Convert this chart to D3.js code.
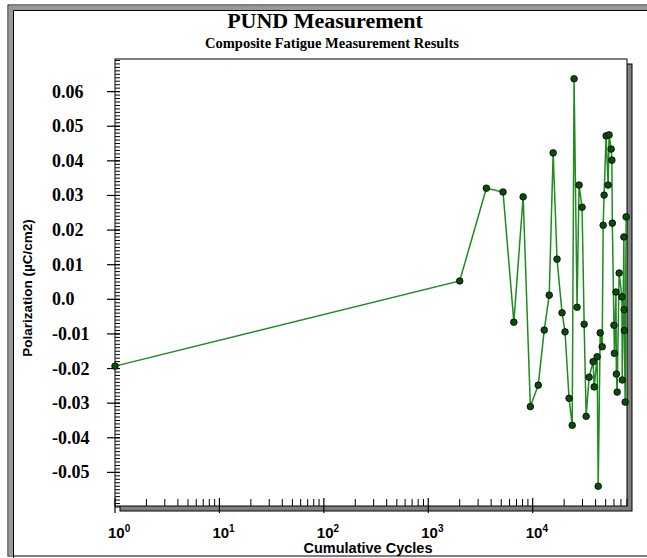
<!DOCTYPE html>
<html>
<head>
<meta charset="utf-8">
<script src="https://cdn.jsdelivr.net/npm/d3@7"></script>
<style>
  body { margin: 0; background: #fff; }
  svg { display: block; }
</style>
</head>
<body>
<div id="chart"></div>
<script>
// cumulative cycles and polarization
const cycles = [1, 2000, 3600, 5200, 6600, 8100, 9500, 11300, 12900, 14400, 15700, 17100,
  19100, 20400, 22300, 23900, 24900, 26600, 27800, 29700, 31100, 32500, 34700, 37900,
  38800, 41400, 42400, 44300, 46300, 47300, 48300, 50500, 52800, 53900, 56400, 57300,
  57900, 60000, 60600, 62700, 63300, 64400, 67300, 71500, 72100, 74700, 75100, 75500,
  76800, 78500];
const polarization = [-0.0193, 0.0053, 0.0321, 0.0310, -0.0066, 0.0296, -0.0310, -0.0248,
  -0.0089, 0.0012, 0.0423, 0.0116, -0.0039, -0.0094, -0.0286, -0.0364, 0.0637, -0.0023,
  0.0330, 0.0266, -0.0072, -0.0338, -0.0225, -0.0180, -0.0253, -0.0166, -0.0540, -0.0097,
  -0.0137, 0.0214, 0.0301, 0.0472, 0.0330, 0.0475, 0.0434, 0.0402, 0.0220, -0.0075,
  -0.0156, 0.0021, -0.0216, -0.0268, 0.0076, 0.0007, -0.0233, 0.0180, -0.0030, -0.0090,
  -0.0297, 0.0238];
const yTicks = [-0.05, -0.04, -0.03, -0.02, -0.01, 0, 0.01, 0.02, 0.03, 0.04, 0.05, 0.06];
const xTicks = [1, 10, 100, 1000, 10000];

const W = 647, H = 558;
const plotL = 115, plotR = 627, plotT = 59, plotB = 506;

const svg = d3.select('#chart').append('svg')
  .attr('width', W)
  .attr('height', H);

// outer window frame (double line left and top)
svg.append('rect').attr('x', 8).attr('y', 5).attr('width', W).attr('height', 551)
  .attr('fill', 'none').attr('stroke', '#000').attr('stroke-width', 1);
svg.append('rect').attr('x', 9).attr('y', 6).attr('width', W).attr('height', 4)
  .attr('fill', '#999');
svg.append('rect').attr('x', 9).attr('y', 6).attr('width', 4).attr('height', 550)
  .attr('fill', '#999');
svg.append('path').attr('d', `M13.5,${H} V10.5 H${W}`)
  .attr('fill', 'none').attr('stroke', '#000');

// titles
svg.append('text').attr('x', 325).attr('y', 28)
  .attr('text-anchor', 'middle')
  .style('font-family', '"Liberation Serif", serif')
  .style('font-weight', 'bold').style('font-size', '22px')
  .text('PUND Measurement');
svg.append('text').attr('x', 332).attr('y', 48)
  .attr('text-anchor', 'middle')
  .style('font-family', '"Liberation Serif", serif')
  .style('font-weight', 'bold').style('font-size', '14.5px')
  .text('Composite Fatigue Measurement Results');

const x = d3.scaleLog().domain([1, 80000]).range([plotL, plotR]);
const y = d3.scaleLinear().domain([-0.06, 0.07]).range([507, 57]);

// plot box with grey drop shadow
svg.append('rect').attr('x', plotL + 5).attr('y', plotT + 5)
  .attr('width', plotR - plotL).attr('height', plotB - plotT)
  .attr('fill', '#808080').attr('stroke', '#000');
svg.append('rect').attr('x', plotL).attr('y', plotT)
  .attr('width', plotR - plotL).attr('height', plotB - plotT)
  .attr('fill', '#fff').attr('stroke', '#000');

// y minor ticks every 0.001
const yMinor = d3.range(-60, 70).map(d => d / 1000);
svg.append('g').selectAll('line').data(yMinor).join('line')
  .attr('x1', plotL).attr('x2', plotL + 5)
  .attr('y1', d => y(d)).attr('y2', d => y(d))
  .attr('stroke', '#000');

svg.append('g').selectAll('line').data(yTicks).join('line')
  .attr('x1', plotL - 8).attr('x2', plotL + 5)
  .attr('y1', d => y(d)).attr('y2', d => y(d))
  .attr('stroke', '#000').attr('stroke-width', 1.2);

svg.append('g').selectAll('text').data(yTicks).join('text')
  .attr('x', 52).attr('y', d => y(d) + 6)
  .style('font-family', '"Liberation Serif", serif')
  .style('font-weight', 'bold').style('font-size', '18px')
  .text(d => d === 0 ? '0.0' : d3.format('.2f')(d).replace('−', '-'));

// x minor ticks
const xMinor = [];
for (let p = 0; p <= 4; p++) {
  for (let k = 2; k <= 9; k++) {
    const v = k * Math.pow(10, p);
    if (v <= 80000) xMinor.push(v);
  }
}
svg.append('g').selectAll('line').data(xMinor).join('line')
  .attr('x1', d => x(d)).attr('x2', d => x(d))
  .attr('y1', plotB - 7).attr('y2', plotB)
  .attr('stroke', '#000');

svg.append('g').selectAll('line').data(xTicks).join('line')
  .attr('x1', d => x(d)).attr('x2', d => x(d))
  .attr('y1', plotB - 8).attr('y2', plotB + 7)
  .attr('stroke', '#000').attr('stroke-width', 1.2);

const xl = svg.append('g').selectAll('text').data(xTicks).join('text')
  .attr('x', d => x(d) - 7).attr('y', 538)
  .style('font-family', '"Liberation Sans", Arial, sans-serif')
  .style('font-weight', 'bold').style('font-size', '15px');
xl.append('tspan').text('10');
xl.append('tspan').attr('dy', -6).style('font-size', '10px')
  .text(d => Math.round(Math.log10(d)));

// axis titles
svg.append('text').attr('x', 368).attr('y', 553)
  .attr('text-anchor', 'middle')
  .style('font-family', '"Liberation Sans", Arial, sans-serif')
  .style('font-weight', 'bold').style('font-size', '14.5px')
  .text('Cumulative Cycles');
svg.append('text')
  .attr('transform', 'translate(32,288) rotate(-90)')
  .attr('text-anchor', 'middle')
  .style('font-family', '"Liberation Sans", Arial, sans-serif')
  .style('font-weight', 'bold').style('font-size', '13.5px')
  .text('Polarization (µC/cm2)');

// data
const pts = cycles.map((c, i) => ({ c: c, p: polarization[i] }));
const line = d3.line().x(d => x(d.c)).y(d => y(d.p));
svg.append('path').datum(pts)
  .attr('d', line)
  .attr('fill', 'none')
  .attr('stroke', '#1e8c1e')
  .attr('stroke-width', 1.5);

svg.append('g').selectAll('circle').data(pts).join('circle')
  .attr('cx', d => x(d.c)).attr('cy', d => y(d.p))
  .attr('r', 3.3)
  .attr('fill', '#0a4d0a')
  .attr('stroke', '#000')
  .attr('stroke-width', 0.8);
</script>
</body>
</html>
